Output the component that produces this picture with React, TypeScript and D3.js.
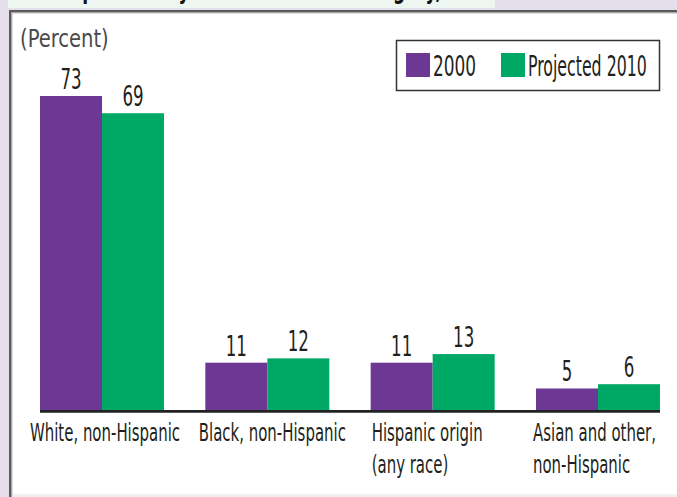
import React from "react";
import * as d3 from "d3";

const categories = [
  "White, non-Hispanic",
  "Black, non-Hispanic",
  "Hispanic origin (any race)",
  "Asian and other, non-Hispanic",
];
const categoryLines = [
  ["White, non-Hispanic"],
  ["Black, non-Hispanic"],
  ["Hispanic origin", "(any race)"],
  ["Asian and other,", "non-Hispanic"],
];
const seriesNames = ["2000", "Projected 2010"];
const values2000 = [73, 11, 11, 5];
const values2010 = [69, 12, 13, 6];
const unitLabel = "(Percent)";
const titleText = "Composition by race and ethnic category, of the U.S. population";

const W = 677;
const H = 497;
const PURPLE = "#6c3893";
const GREEN = "#00a866";
const FONT = "'DejaVu Sans Condensed', 'DejaVu Sans', sans-serif";
const INK = "#231f20";

function CText({ x, y, sx, size, anchor = "start", fill = INK, children }: any) {
  return (
    <text
      transform={`translate(${x},${y}) scale(${sx},1)`}
      fontFamily={FONT}
      fontStretch="condensed"
      fontSize={size}
      textAnchor={anchor}
      fill={fill}
    >
      {children}
    </text>
  );
}

export default function App() {
  const baseY = 410;
  const x = d3.scaleBand<string>().domain(categories).range([40, 660]).paddingInner(0.25).paddingOuter(0);
  const xs = d3.scaleBand<string>().domain(seriesNames).range([0, x.bandwidth()]).padding(0);
  const y = d3.scaleLinear().domain([0, 73]).range([baseY, 96]);
  const colors = d3.scaleOrdinal<string, string>().domain(seriesNames).range([PURPLE, GREEN]);
  const seriesValues = [values2000, values2010];

  return (
    <svg width={W} height={H} style={{ position: "absolute", left: 0, top: 0, display: "block" }}>
      <defs>
        <clipPath id="titleClip">
          <rect x={8} y={0} width={487} height={8} />
        </clipPath>
      </defs>
      {/* backgrounds */}
      <rect x={0} y={0} width={W} height={H} fill="#e5dfec" />
      <rect x={8} y={0} width={487} height={8} fill="#eef6f1" />
      <g clipPath="url(#titleClip)">
        <text
          x={40}
          y={-2}
          fontFamily={FONT}
          fontStretch="condensed"
          fontWeight="bold"
          fontSize={26}
          fill="#111"
          textLength={620}
          lengthAdjust="spacingAndGlyphs"
        >
          {titleText}
        </text>
      </g>
      <rect x={9} y={10} width={W - 9} height={H - 10} fill="#ffffff" />
      {/* panel border / shadow */}
      <rect x={9} y={10} width={W - 9} height={2} fill="#5a5a5a" />
      <rect x={9} y={12} width={W - 9} height={1} fill="#a8a8a8" />
      <rect x={9} y={13} width={W - 9} height={1} fill="#dcdcdc" />
      <rect x={9} y={10} width={2} height={H - 10} fill="#5a5a5a" />
      <rect x={11} y={12} width={1} height={H - 12} fill="#a8a8a8" />
      <rect x={12} y={13} width={1} height={H - 13} fill="#dcdcdc" />
      <rect x={13} y={494} width={W - 13} height={3} fill="#f1f1f1" />

      {/* unit label */}
      <CText x={20} y={47} sx={0.87} size={25} fill="#4a4a4a">
        {unitLabel}
      </CText>

      {/* legend */}
      <rect x={396.5} y={40.5} width={263} height={50} fill="#fff" stroke="#333" strokeWidth={1.5} />
      {seriesNames.map((s, i) => {
        const lx = i === 0 ? 406 : 501;
        return (
          <g key={s}>
            <rect x={lx} y={53} width={24} height={24} fill={colors(s)} />
            <CText x={lx + 27} y={76} sx={i === 0 ? 0.65 : 0.605} size={29}>
              {s}
            </CText>
          </g>
        );
      })}

      {/* bars */}
      {categories.map((c, ci) => (
        <g key={c} transform={`translate(${x(c)},0)`}>
          {seriesNames.map((s, si) => {
            const v = seriesValues[si][ci];
            const bx = xs(s) as number;
            const top = y(v);
            return (
              <g key={s}>
                <rect x={bx} y={top} width={xs.bandwidth()} height={baseY - top} fill={colors(s)} />
                <CText x={bx + xs.bandwidth() / 2} y={top - 7} sx={0.66} size={28} anchor="middle">
                  {v}
                </CText>
              </g>
            );
          })}
        </g>
      ))}

      {/* axis line */}
      <line x1={40} x2={660} y1={y(0) + 1.3} y2={y(0) + 1.3} stroke="#222" strokeWidth={2.8} />

      {/* category labels */}
      {categories.map((c, ci) => {
        const lines = categoryLines[ci];
        const x0 = x(c) as number;
        const multi = lines.length > 1;
        return (
          <g key={c}>
            {lines.map((ln, li) => (
              <CText
                key={li}
                x={multi ? x0 - (ci === 3 ? 3 : -1) : x0 + x.bandwidth() / 2 + (ci === 0 ? 3 : 5)}
                y={441 + li * 32}
                sx={0.665}
                size={25}
                anchor={multi ? "start" : "middle"}
              >
                {ln}
              </CText>
            ))}
          </g>
        );
      })}
    </svg>
  );
}
